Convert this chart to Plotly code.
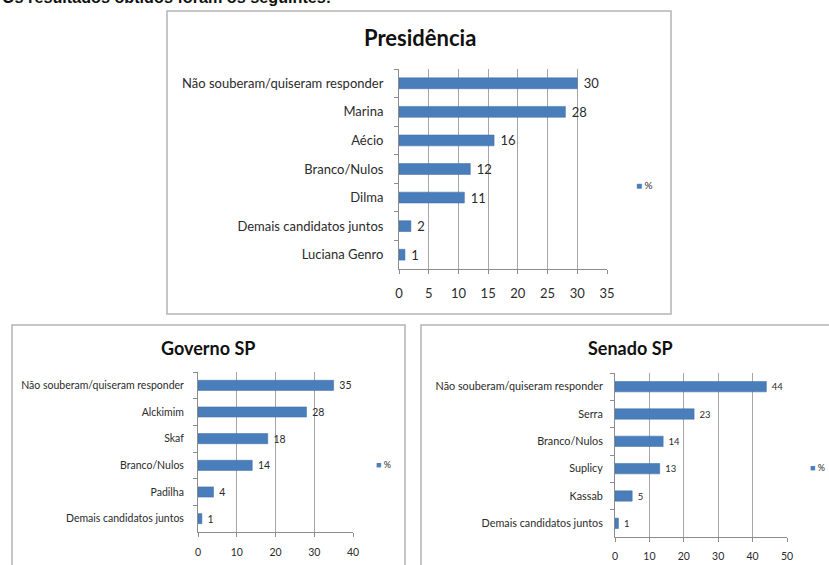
import plotly.graph_objects as go

W, H = 829, 565

# ---- data ----
pres_cats = ["Não souberam/quiseram responder", "Marina", "Aécio", "Branco/Nulos",
             "Dilma", "Demais candidatos juntos", "Luciana Genro"]
pres_vals = [30, 28, 16, 12, 11, 2, 1]

gov_cats = ["Não souberam/quiseram responder", "Alckimim", "Skaf", "Branco/Nulos",
            "Padilha", "Demais candidatos juntos"]
gov_vals = [35, 28, 18, 14, 4, 1]

sen_cats = ["Não souberam/quiseram responder", "Serra", "Branco/Nulos", "Suplicy",
            "Kassab", "Demais candidatos juntos"]
sen_vals = [44, 23, 14, 13, 5, 1]

series_name = "%"
titles = ["Presidência", "Governo SP", "Senado SP"]
intro = "Os resultados obtidos foram os seguintes:"

BAR = "#4a7ebb"
GRID = "#a6a6a6"
TXT = "#2b2b2b"
FONT = "Lato"
NBSP = "\u00a0"


def px(x):
    return x / W


def py(y):
    return 1 - y / H


fig = go.Figure()

panels = [
    dict(cats=pres_cats, vals=pres_vals, xa="x", ya="y", lg="legend",
         dom_x=(399, 607), dom_y=(69, 269), rng=35, dt=5, fs=13, tfs=13,
         lab_fs=13, standoff=12, xstand=8,
         title_xy=(420, 38), title_fs=22, leg_xy=(596, 185), leg_fs=10),
    dict(cats=gov_cats, vals=gov_vals, xa="x2", ya="y2", lg="legend2",
         dom_x=(198, 353), dom_y=(372, 532), rng=40, dt=10, fs=10.5, tfs=10.5,
         lab_fs=10.5, standoff=11, xstand=6,
         title_xy=(208, 348), title_fs=18, leg_xy=(336, 464), leg_fs=9),
    dict(cats=sen_cats, vals=sen_vals, xa="x3", ya="y3", lg="legend3",
         dom_x=(615, 787), dom_y=(373, 537), rng=50, dt=10, fs=10.8, tfs=10.5,
         lab_fs=9.5, standoff=9, xstand=5,
         title_xy=(630, 348), title_fs=18, leg_xy=(770, 467), leg_fs=9),
]

for i, p in enumerate(panels):
    fig.add_trace(go.Bar(
        x=p["vals"], y=p["cats"], orientation="h", xaxis=p["xa"], yaxis=p["ya"],
        marker=dict(color=BAR, line=dict(color="#3a6aa5", width=0.5)),
        width=0.38, text=[NBSP + str(v) for v in p["vals"]], textposition="outside",
        textfont=dict(family=FONT, size=p["lab_fs"], color=TXT),
        constraintext="none", cliponaxis=False, showlegend=False, name=series_name,
    ))
    # legend entry: coloured square glyph followed by the series name
    fig.add_trace(go.Scatter(
        x=[None], y=[None], mode="markers", xaxis=p["xa"], yaxis=p["ya"],
        marker=dict(symbol="square", size=1, color="rgba(0,0,0,0)"),
        name='<span style="color:%s">■</span> %s' % (BAR, series_name),
        legend=p["lg"], showlegend=True,
    ))
    sfx = "" if i == 0 else str(i + 1)
    fig.layout["xaxis" + sfx] = dict(
        domain=[px(p["dom_x"][0]), px(p["dom_x"][1])], range=[0, p["rng"]],
        dtick=p["dt"], tick0=0, showgrid=True, gridcolor=GRID, gridwidth=1,
        zeroline=False, showline=True, linecolor="#8c8c8c", linewidth=1,
        ticks="outside", ticklen=4, tickcolor="#8c8c8c",
        tickfont=dict(family=FONT, size=p["tfs"], color=TXT),
        ticklabelstandoff=p["xstand"],
        anchor="y" + sfx, fixedrange=True, automargin=False,
    )
    fig.layout["yaxis" + sfx] = dict(
        domain=[py(p["dom_y"][1]), py(p["dom_y"][0])],
        type="category", autorange="reversed", showgrid=False,
        showline=True, linecolor="#8c8c8c", linewidth=1,
        ticks="outside", ticklen=4, tickcolor="#8c8c8c", tickson="boundaries",
        tickfont=dict(family=FONT, size=p["fs"], color=TXT),
        ticklabelstandoff=p["standoff"],
        anchor="x" + sfx, fixedrange=True, automargin=False,
    )
    fig.layout[p["lg"]] = dict(
        x=px(p["leg_xy"][0]), y=py(p["leg_xy"][1]), xanchor="left", yanchor="middle",
        font=dict(family=FONT, size=p["leg_fs"], color=TXT), bgcolor="rgba(0,0,0,0)",
        itemwidth=30, tracegroupgap=0,
    )
    fig.add_annotation(
        x=px(p["title_xy"][0]), y=py(p["title_xy"][1]), xref="paper", yref="paper",
        text="<b>" + titles[i] + "</b>", showarrow=False, xanchor="center", yanchor="middle",
        font=dict(family=FONT, size=p["title_fs"], color="#111111"),
    )

# chart-area boxes
boxes = [(167, 11, 671, 314), (12, 325, 405, 580), (421, 325, 845, 580)]
for (x0, y0, x1, y1) in boxes:
    fig.add_shape(type="rect", xref="paper", yref="paper",
                  x0=px(x0), x1=px(x1), y0=py(y1), y1=py(y0),
                  line=dict(color="#b4b4b4", width=1.5), layer="below")

# cut-off intro sentence at the top
fig.add_annotation(x=0, y=py(7.5), xref="paper", yref="paper", text="<b>" + intro + "</b>",
                   showarrow=False, xanchor="left", yanchor="bottom",
                   font=dict(family="Liberation Sans", size=16.2, color="#111111"))

fig.update_layout(
    width=W, height=H, margin=dict(l=0, r=0, t=0, b=0, autoexpand=False),
    paper_bgcolor="white", plot_bgcolor="white", bargap=0.6,
)

fig.write_html("out.html")
